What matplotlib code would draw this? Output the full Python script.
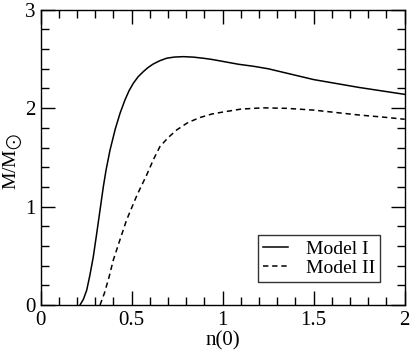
import matplotlib
matplotlib.use("Agg")
import matplotlib.pyplot as plt
from matplotlib.ticker import MultipleLocator

plt.rcParams['font.family'] = ['Liberation Serif', 'DejaVu Serif']
plt.rcParams['mathtext.fontset'] = 'stix'

# Model I (solid)
n1 = [0.216, 0.235, 0.253, 0.27, 0.289, 0.308, 0.326, 0.344, 0.359, 0.381, 0.41, 0.436,
      0.463, 0.485, 0.509, 0.535, 0.564, 0.59, 0.619, 0.655, 0.692, 0.735, 0.784, 0.84,
      0.893, 0.94, 0.985, 1.086, 1.17, 1.25, 1.375, 1.5, 1.625, 1.75, 1.875, 2.0]
m1 = [0.0, 0.06, 0.152, 0.3, 0.49, 0.73, 0.965, 1.2, 1.37, 1.575, 1.79, 1.948,
      2.083, 2.175, 2.253, 2.318, 2.371, 2.413, 2.449, 2.482, 2.507, 2.519, 2.523, 2.518,
      2.507, 2.495, 2.48, 2.446, 2.425, 2.4, 2.345, 2.29, 2.25, 2.21, 2.175, 2.14]

# Model II (dashed)
n2 = [0.326, 0.35, 0.375, 0.399, 0.435, 0.472, 0.53, 0.582, 0.62, 0.655, 0.7, 0.747,
      0.81, 0.876, 0.94, 1.0, 1.1, 1.22, 1.35, 1.5, 1.625, 1.75, 1.875, 2.0]
m2 = [0.0, 0.12, 0.28, 0.457, 0.66, 0.864, 1.12, 1.32, 1.48, 1.609, 1.7, 1.778,
      1.855, 1.905, 1.94, 1.96, 1.99, 2.003, 1.998, 1.98, 1.955, 1.93, 1.91, 1.887]

fig = plt.figure(figsize=(4.12, 3.54), dpi=100)
ax = fig.add_axes([0.0988, 0.1384, 0.8834, 0.8342])

ax.plot(n1, m1, color='black', lw=1.1, label='Model I')
ax.plot(n2, m2, color='black', lw=1.1, dashes=(3.5, 2.5), label='Model II')

ax.set_xlim(0, 2)
ax.set_ylim(0, 3)
ax.xaxis.set_minor_locator(MultipleLocator(0.1))
ax.yaxis.set_minor_locator(MultipleLocator(0.2))
ax.set_xticks([0, 0.5, 1, 1.5, 2])
ax.set_xticklabels(['0', '0.5', '1', '1.5', '2'])
ax.set_yticks([0, 1, 2, 3])
ax.set_yticklabels(['0', '1', '2', '3'])
ax.tick_params(which='both', direction='in', top=True, right=True, labelsize=15, width=1.0)
ax.tick_params(which='major', length=10, pad=4)
ax.tick_params(which='minor', length=5.5)
for s in ax.spines.values():
    s.set_linewidth(1.0)

ax.set_xlabel('n(0)', fontsize=15, labelpad=1)
ax.set_ylabel(r'M/M$_{\bigodot}$', fontsize=14)
ax.yaxis.set_label_coords(-0.04, 0.485)

leg = ax.legend(loc='lower right', bbox_to_anchor=(0.932, 0.078), fontsize=14,
                frameon=True, fancybox=False, handlelength=1.3, handletextpad=0.9,
                borderpad=0.25, labelspacing=0.1, borderaxespad=0)
leg.get_frame().set_edgecolor('black')
leg.get_frame().set_linewidth(1.0)

fig.savefig('out.png', dpi=100)
